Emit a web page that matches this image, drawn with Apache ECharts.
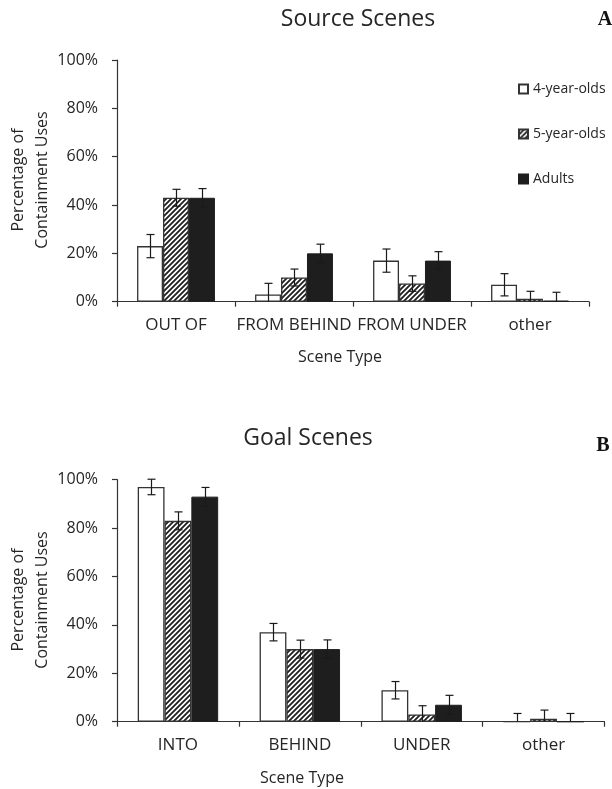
<!DOCTYPE html>
<html>
<head>
<meta charset="utf-8">
<script src="https://cdn.jsdelivr.net/npm/echarts@6/dist/echarts.min.js"></script>
<style>
html,body{margin:0;padding:0;background:#fff;}
#chart{width:612px;height:789px;}
</style>
</head>
<body>
<div id="chart"></div>
<script>
// ---- data ----
const groups = ['4-year-olds', '5-year-olds', 'Adults'];
const sourceCategories = ['OUT OF', 'FROM BEHIND', 'FROM UNDER', 'other'];
const goalCategories = ['INTO', 'BEHIND', 'UNDER', 'other'];
const sourceFour = [23, 3, 17, 7];
const sourceFive = [43, 10, 7.5, 1.2];
const sourceAdults = [43, 20, 17, 0.4];
const sourceFourErr = [4.8, 4.6, 4.8, 4.6];
const sourceFiveErr = [3.5, 3.5, 3.2, 3.1];
const sourceAdultsErr = [3.8, 3.8, 3.7, 3.5];
const goalFour = [97, 37, 13, 0];
const goalFive = [83, 30, 3, 1.2];
const goalAdults = [93, 30, 7, 0];
const goalFourErr = [3.2, 3.6, 3.6, 3.4];
const goalFiveErr = [3.7, 3.7, 3.6, 3.6];
const goalAdultsErr = [3.8, 3.8, 3.9, 3.4];
const yMin = 0, yMax = 100, yStep = 20;

// ---- styling ----
const FONT = 'Open Sans';
const TXT = '#262626';
const AX = '#333333';
const GAP = 0.34;

function hatch() {
  const s = 5;
  const c = document.createElement('canvas');
  c.width = s; c.height = s;
  const g = c.getContext('2d');
  g.fillStyle = '#fff'; g.fillRect(0, 0, s, s);
  g.strokeStyle = '#1e1e1e'; g.lineWidth = 1.8;
  g.beginPath();
  g.moveTo(-1, s + 1); g.lineTo(s + 1, -1);
  g.moveTo(-1, 1); g.lineTo(1, -1);
  g.moveTo(s - 1, s + 1); g.lineTo(s + 1, s - 1);
  g.stroke();
  return c;
}
const hatchFill = { image: hatch(), repeat: 'repeat' };
const styles = [
  { color: '#ffffff', borderColor: '#333333', borderWidth: 1.3 },
  { color: hatchFill, borderColor: '#333333', borderWidth: 1.3 },
  { color: '#1e1e1e', borderColor: '#1e1e1e', borderWidth: 1 }
];

function errRender(idx) {
  return function (params, api) {
    const cat = api.value(0);
    const rawLo = api.value(1);
    const lo = Math.max(0, rawLo);
    const hi = api.value(2);
    const top = api.coord([cat, hi]);
    const bot = api.coord([cat, lo]);
    const band = api.size([1, 0])[0];
    const bw = band * (1 - GAP) / 3;
    const x = Math.round(top[0] + (idx - 1) * bw) + 0.5;
    const cap = 4;
    const st = { stroke: '#1a1a1a', lineWidth: 1.2 };
    const ch = [
      { type: 'line', shape: { x1: x, y1: top[1], x2: x, y2: bot[1] }, style: st },
      { type: 'line', shape: { x1: x - cap, y1: top[1], x2: x + cap, y2: top[1] }, style: st }
    ];
    if (rawLo >= 0) ch.push({ type: 'line', shape: { x1: x - cap, y1: bot[1], x2: x + cap, y2: bot[1] }, style: st });
    return { type: 'group', children: ch };
  };
}

function errData(vals, errs) {
  return vals.map((v, i) => [i, v - errs[i], v + errs[i]]);
}

function xAxisFor(cats, gi) {
  return {
    type: 'category', gridIndex: gi, data: cats,
    axisLine: { lineStyle: { color: AX, width: 1.2 } },
    axisTick: { show: true, length: 5, inside: false, lineStyle: { color: AX, width: 1.2 } },
    axisLabel: { color: TXT, fontFamily: FONT, fontSize: 17, margin: 15, interval: 0 }
  };
}
function yAxisFor(gi) {
  return {
    type: 'value', gridIndex: gi, min: yMin, max: yMax, interval: yStep,
    splitLine: { show: false },
    axisLine: { show: true, lineStyle: { color: AX, width: 1.2 } },
    axisTick: { show: true, length: 5, lineStyle: { color: AX, width: 1.2 } },
    axisLabel: { color: TXT, fontFamily: FONT, fontSize: 16, margin: 19, formatter: '{value}%' }
  };
}

const sets = [
  { vals: [sourceFour, sourceFive, sourceAdults], errs: [sourceFourErr, sourceFiveErr, sourceAdultsErr] },
  { vals: [goalFour, goalFive, goalAdults], errs: [goalFourErr, goalFiveErr, goalAdultsErr] }
];
const series = [];
sets.forEach((set, gi) => {
  groups.forEach((name, k) => {
    series.push({
      type: 'bar', name: name, xAxisIndex: gi, yAxisIndex: gi,
      data: set.vals[k], barGap: '0%', barCategoryGap: (GAP * 100) + '%',
      itemStyle: styles[k], emphasis: { disabled: true }, animation: false
    });
  });
  groups.forEach((name, k) => {
    series.push({
      type: 'custom', name: 'err' + gi + k, xAxisIndex: gi, yAxisIndex: gi,
      renderItem: errRender(k), data: errData(set.vals[k], set.errs[k]), z: 5, animation: false
    });
  });
});

function txt(text, x, y, size, extra) {
  return Object.assign({
    type: 'text', x: x, y: y,
    style: Object.assign({ text: text, fill: TXT, font: size + 'px "' + FONT + '"', textAlign: 'center', textVerticalAlign: 'middle' }, extra || {})
  });
}
const graphics = [
  txt('Source Scenes', 358, 19, 23),
  txt('Goal Scenes', 308, 438, 23),
  { type: 'text', x: 605, y: 20, style: { text: 'A', fill: '#111', font: 'bold 20px "Liberation Serif"', textAlign: 'center', textVerticalAlign: 'middle' } },
  { type: 'text', x: 603, y: 446, style: { text: 'B', fill: '#111', font: 'bold 20px "Liberation Serif"', textAlign: 'center', textVerticalAlign: 'middle' } },
  txt('Scene Type', 340, 357, 16),
  txt('Scene Type', 302, 778, 16),
  { type: 'text', x: 30, y: 180, rotation: Math.PI / 2, style: { text: 'Percentage of\nContainment Uses', fill: TXT, font: '16px "' + FONT + '"', textAlign: 'center', textVerticalAlign: 'middle', lineHeight: 24 } },
  { type: 'text', x: 30, y: 600, rotation: Math.PI / 2, style: { text: 'Percentage of\nContainment Uses', fill: TXT, font: '16px "' + FONT + '"', textAlign: 'center', textVerticalAlign: 'middle', lineHeight: 24 } }
];

const chart = echarts.init(document.getElementById('chart'), null, { renderer: 'canvas' });
chart.setOption({
  animation: false,
  backgroundColor: '#ffffff',
  grid: [
    { left: 117, width: 472, top: 60, height: 241.7 },
    { left: 117, width: 487.5, top: 479.7, height: 242 }
  ],
  xAxis: [xAxisFor(sourceCategories, 0), xAxisFor(goalCategories, 1)],
  yAxis: [yAxisFor(0), yAxisFor(1)],
  legend: {
    data: groups, orient: 'vertical', left: 518, top: 82, padding: 0,
    itemWidth: 9, itemHeight: 9, itemGap: 31, icon: 'rect',
    textStyle: { color: TXT, fontFamily: FONT, fontSize: 14 },
    selectedMode: false
  },
  graphic: graphics,
  series: series
});
</script>
</body>
</html>
